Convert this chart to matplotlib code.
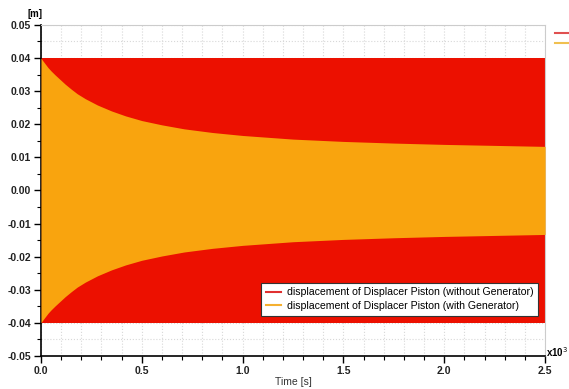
import matplotlib.pyplot as plt
from matplotlib.lines import Line2D
from matplotlib.ticker import MultipleLocator, FuncFormatter, FormatStrFormatter

# time axis in units of 10^3 s
time_k = [0.0, 0.01, 0.02, 0.035, 0.05, 0.07, 0.095, 0.12, 0.15, 0.18, 0.22,
          0.28, 0.35, 0.42, 0.5, 0.6, 0.71, 0.85, 1.0, 1.25, 1.5, 1.75,
          2.0, 2.25, 2.5]
# amplitude envelope without generator (constant stroke) [m]
amp_no_gen = [0.04] * len(time_k)
# amplitude envelope with generator (decaying) [m]
amp_gen = [0.040, 0.0391, 0.0383, 0.0371, 0.0361, 0.0349, 0.0335, 0.0321,
           0.0306, 0.0292, 0.0277, 0.0258, 0.0240, 0.0225, 0.0211, 0.0198,
           0.0186, 0.0175, 0.0166, 0.0155, 0.0148, 0.0143, 0.0139, 0.0136,
           0.0133]

red = "#ec1000"
orange = "#f9a40e"

plt.rcParams['font.family'] = ['Liberation Sans', 'DejaVu Sans']

fig = plt.figure(figsize=(5.69, 3.89), dpi=100)
ax = fig.add_axes([0.072, 0.085, 0.886, 0.851])

ax.fill_between(time_k, [-a for a in amp_no_gen], amp_no_gen, color=red, lw=0, zorder=2)
ax.fill_between(time_k, [-a for a in amp_gen], amp_gen, color=orange, lw=0, zorder=3)

ax.set_xlim(0, 2.5)
ax.set_ylim(-0.05, 0.05)
ax.xaxis.set_major_locator(MultipleLocator(0.5))
ax.xaxis.set_minor_locator(MultipleLocator(0.1))
ax.yaxis.set_major_locator(MultipleLocator(0.01))
ax.yaxis.set_minor_locator(MultipleLocator(0.005))
ax.xaxis.set_major_formatter(FormatStrFormatter("%.1f"))
ax.yaxis.set_major_formatter(FuncFormatter(lambda v, p: "%.2f" % (0.0 if abs(v) < 1e-9 else v)))
ax.grid(True, which="both", color="#d8d8d8", linestyle=":", linewidth=0.8, zorder=1)
ax.set_axisbelow(True)

ax.tick_params(which="major", length=5, width=1, labelsize=7.5, pad=2)
ax.tick_params(which="minor", length=3, width=0.8)
for lab in ax.get_xticklabels() + ax.get_yticklabels():
    lab.set_fontweight("bold")
    lab.set_color("#222222")

ax.spines["top"].set_color("#cccccc")
ax.spines["right"].set_color("#cccccc")
ax.spines["left"].set_linewidth(1.2)
ax.spines["bottom"].set_linewidth(1.2)

ax.set_xlabel("Time [s]", fontsize=7.5, labelpad=1, color="#333333")
fig.text(0.062, 0.965, "[m]", fontsize=7, fontweight="bold", ha="center", va="center")
fig.text(0.960, 0.095, "x10$^3$", fontsize=7, fontweight="bold", ha="left", va="center")

handles = [Line2D([], [], color="#e03030", lw=1.5),
           Line2D([], [], color="#f5b030", lw=1.5)]
labels = ["displacement of Displacer Piston (without Generator)",
          "displacement of Displacer Piston (with Generator)"]
leg = ax.legend(handles, labels, loc="lower right", bbox_to_anchor=(0.997, 0.105),
                fontsize=7.6, frameon=True, fancybox=False, framealpha=1,
                handlelength=1.4, handletextpad=0.6, borderpad=0.45, labelspacing=0.35)
leg.get_frame().set_edgecolor("#333333")
leg.get_frame().set_facecolor("white")
leg.get_frame().set_linewidth(0.8)
leg.set_zorder(5)

# cut-off legend entries at top right
fig.add_artist(Line2D([0.975, 1.0], [0.915, 0.915], color="#e05050", lw=1.5))
fig.add_artist(Line2D([0.975, 1.0], [0.889, 0.889], color="#f0c050", lw=1.5))

fig.savefig("out.png", dpi=100)
